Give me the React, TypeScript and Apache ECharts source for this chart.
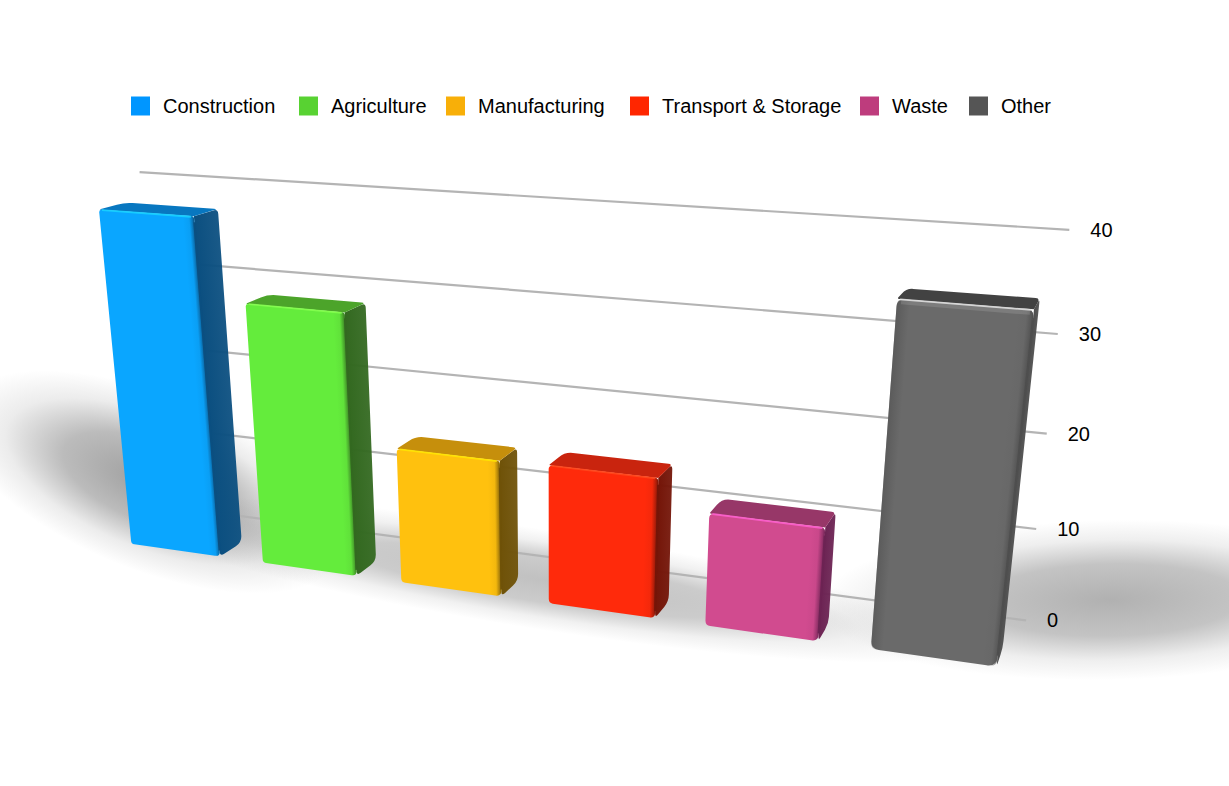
import React, { useEffect, useRef } from "react";
import * as echarts from "echarts";

const categories = ["Construction", "Agriculture", "Manufacturing", "Transport & Storage", "Waste", "Other"];
const values = [38, 29.2, 15.1, 15.2, 12.1, 35];
const ticks = [0, 10, 20, 30, 40];

const legendColors = ["#0096ff", "#58d232", "#f8af08", "#ff2600", "#be3c7d", "#555555"];
const frontColors = ["#0aa6ff", "#64ec3c", "#ffc10e", "#ff2a0b", "#d14b8f", "#6a6a6a"];
const topColors = ["#0877c0", "#4ca42a", "#c68f0c", "#c9240e", "#973768", "#424242"];
const sideColors = ["#0b4f80", "#336920", "#6f5208", "#741508", "#6c2353", "#4e4e4e"];
const lightColors = ["#19d3ff", "#85ff4f", "#ffe600", "#ff4a1f", "#ff5fd0", "#e4e4e4"];
const legendLefts = [131, 299, 446, 630, 860, 969];
const radii = [3, 3, 4, 4, 5, 8];
const halfLeft = [0.34, 0.34, 0.345, 0.345, 0.345, 0.35];
const halfRight = [0.34, 0.34, 0.34, 0.34, 0.34, 0.365];

// perspective camera: origin, three vanishing points and their weights
const O = [111, 541];
const VX = [-4534, -118];
const VY = [553, 4894];
const VZ = [1254, -107];
const LX = -0.0273;
const LY = -0.00187;
const LZ = 0.021;
const WALL_Z = 2.65;

const GRID = { left: 0, top: 0, width: 600, height: 400 };

function project(X: number, Y: number, Z: number): number[] {
  const w = 1 + LX * X + LY * Y + LZ * Z;
  return [
    (O[0] + LX * X * VX[0] + LY * Y * VY[0] + LZ * Z * VZ[0]) / w,
    (O[1] + LX * X * VX[1] + LY * Y * VY[1] + LZ * Z * VZ[1]) / w,
  ];
}

function toWorld(api: any, cat: number, val: number) {
  const c = api.coord([cat, val]);
  const band = api.size([1, 0])[0];
  const unit = api.size([0, 1])[1];
  return { X: (c[0] - GRID.left) / band, Y: (GRID.top + GRID.height - c[1]) / unit };
}

function rgba(hex: string, a: number): string {
  const n = parseInt(hex.slice(1), 16);
  return `rgba(${(n >> 16) & 255},${(n >> 8) & 255},${n & 255},${a})`;
}

function roundedPath(pts: number[][], rs: number[]): string {
  const n = pts.length;
  let d = "";
  for (let i = 0; i < n; i++) {
    const p = pts[i];
    const a = pts[(i + n - 1) % n];
    const b = pts[(i + 1) % n];
    const la = Math.hypot(a[0] - p[0], a[1] - p[1]) || 1;
    const lb = Math.hypot(b[0] - p[0], b[1] - p[1]) || 1;
    const r = Math.min(rs[i], la / 2, lb / 2);
    const s = [p[0] + ((a[0] - p[0]) * r) / la, p[1] + ((a[1] - p[1]) * r) / la];
    const e = [p[0] + ((b[0] - p[0]) * r) / lb, p[1] + ((b[1] - p[1]) * r) / lb];
    d += (i === 0 ? "M" : "L") + s[0].toFixed(2) + " " + s[1].toFixed(2);
    d += "Q" + p[0].toFixed(2) + " " + p[1].toFixed(2) + " " + e[0].toFixed(2) + " " + e[1].toFixed(2);
  }
  return d + "Z";
}

// gradient running square to the edge a-b, towards point c
function acrossEdge(a: number[], b: number[], c: number[], stops: any[]) {
  const ex = b[0] - a[0];
  const ey = b[1] - a[1];
  const l = Math.hypot(ex, ey) || 1;
  let nx = -ey / l;
  let ny = ex / l;
  const dist = (c[0] - a[0]) * nx + (c[1] - a[1]) * ny;
  if (dist < 0) {
    nx = -nx;
    ny = -ny;
  }
  const d = Math.abs(dist);
  const mx = (a[0] + b[0]) / 2;
  const my = (a[1] + b[1]) / 2;
  return new echarts.graphic.LinearGradient(mx, my, mx + nx * d, my + ny * d, stops, true);
}

function barItem(idx: number) {
  return (_params: any, api: any) => {
    const cat = api.value(0);
    const val = api.value(1);
    const { X, Y } = toWorld(api, cat, val);
    const lo = X - halfLeft[idx];
    const hi = X + halfRight[idx];
    const fTL = project(lo, Y, 0);
    const fTR = project(hi, Y, 0);
    const fBL = project(lo, 0, 0);
    const fBR = project(hi, 0, 0);
    const bTL = project(lo, Y, 1);
    const bTR = project(hi, Y, 1);
    const bBR = project(hi, 0, 1);
    const r = radii[idx];
    const side = sideColors[idx];
    const front = frontColors[idx];
    const sideFill = acrossEdge(fTR, fBR, bTR, [
      { offset: 0, color: rgba(side, 1) },
      { offset: 1, color: rgba(side, 0.94) },
    ]);
    const innerR = [project(hi - 0.08, Y, 0), fTR, fBR, project(hi - 0.08, 0, 0)];
    const innerL = [fTL, project(lo + 0.07, Y, 0), project(lo + 0.07, 0, 0), fBL];
    const edgeLen = Math.hypot(fBR[0] - fTR[0], fBR[1] - fTR[1]) || 1;
    const edgeCut = (r + 3) / edgeLen;
    const children: any[] = [
      {
        type: "path",
        shape: { pathData: roundedPath([fTR, bTR, bBR, fBR], [0, 5, 7, 5]) },
        style: { fill: sideFill },
      },
      {
        type: "path",
        shape: { pathData: roundedPath([fTL, fTR, bTR, bTL], [2, 0, 4, 8]) },
        style: { fill: topColors[idx] },
      },
      {
        type: "path",
        shape: { pathData: roundedPath([fTL, fTR, fBR, fBL], [r, r, r + 2, r]) },
        style: { fill: front },
      },
      {
        type: "path",
        shape: { pathData: roundedPath(innerR, [0, r, r + 2, 0]) },
        style: {
          fill: acrossEdge(innerR[0], innerR[3], fTR, [
            { offset: 0, color: rgba(side, 0) },
            { offset: 0.55, color: rgba(side, 0.08) },
            { offset: 0.85, color: rgba(side, 0.6) },
            { offset: 1, color: rgba(side, 1) },
          ]),
        },
      },
      {
        type: "line",
        shape: {
          x1: fTR[0] + (fBR[0] - fTR[0]) * edgeCut,
          y1: fTR[1] + (fBR[1] - fTR[1]) * edgeCut,
          x2: fBR[0] - (fBR[0] - fTR[0]) * edgeCut,
          y2: fBR[1] - (fBR[1] - fTR[1]) * edgeCut,
        },
        style: { stroke: side, lineWidth: 2 },
      },
    ];
    if (idx === 5) {
      children.push({
        type: "path",
        shape: { pathData: roundedPath(innerL, [r, 0, 0, r]) },
        style: {
          fill: acrossEdge(innerL[1], innerL[2], fTL, [
            { offset: 0, color: rgba(side, 0) },
            { offset: 1, color: rgba(side, 0.55) },
          ]),
        },
      });
      children.push({
        type: "line",
        shape: { x1: fTL[0] + 4, y1: fTL[1] + 3, x2: fTR[0] - 4, y2: fTR[1] + 3 },
        style: { stroke: "#ffffff", lineWidth: 5, opacity: 0.12 },
      });
    }
    children.push({
      type: "line",
      shape: { x1: fTL[0] + 3, y1: fTL[1] + 0.5, x2: fTR[0] - 3, y2: fTR[1] + 0.5 },
      style: { stroke: lightColors[idx], lineWidth: 1.8, opacity: 0.85 },
    });
    return { type: "group", children };
  };
}

function gridItem(_params: any, api: any) {
  const val = api.value(1);
  const { Y } = toWorld(api, 0, val);
  const a = project(-0.02, Y, WALL_Z);
  const b = project(5.945, Y, WALL_Z);
  return {
    type: "group",
    children: [
      {
        type: "line",
        shape: { x1: a[0], y1: a[1], x2: b[0], y2: b[1] },
        style: { stroke: "#b4b4b4", lineWidth: 2.2 },
      },
      {
        type: "text",
        style: {
          text: String(val),
          x: b[0] + 21,
          y: b[1],
          fill: "#000",
          fontFamily: "Liberation Sans",
          fontSize: 20,
          align: "left",
          verticalAlign: "middle",
        },
      },
    ],
  };
}

const glow = (cx: number, cy: number, rx: number, ry: number, rot: number, peak: number, mid: number) => ({
  type: "circle",
  silent: true,
  x: cx,
  y: cy,
  scaleX: rx,
  scaleY: ry,
  rotation: rot,
  shape: { cx: 0, cy: 0, r: 1 },
  style: {
    fill: new echarts.graphic.RadialGradient(0.5, 0.5, 0.5, [
      { offset: 0, color: `rgba(120,120,120,${peak})` },
      { offset: 0.45, color: `rgba(120,120,120,${mid})` },
      { offset: 0.75, color: `rgba(120,120,120,${mid * 0.28})` },
      { offset: 1, color: "rgba(120,120,120,0)" },
    ]),
  },
});

export default function App() {
  const ref = useRef<HTMLDivElement>(null);
  useEffect(() => {
    const chart = echarts.init(ref.current!, null, { renderer: "svg" });
    chart.setOption({
      animation: false,
      backgroundColor: "#fff",
      grid: { ...GRID, containLabel: false },
      xAxis: { type: "category", data: categories, show: false },
      yAxis: { type: "value", min: 0, max: 40, interval: 10, show: false },
      legend: categories.map((name, i) => ({
        data: [name],
        left: legendLefts[i],
        top: 96,
        itemWidth: 19,
        itemHeight: 19,
        padding: 0,
        icon: "rect",
        selectedMode: false,
        textStyle: { fontFamily: "Liberation Sans", fontSize: 20, color: "#000", padding: [0, 0, 0, 8] },
      })),
      graphic: [
        glow(150, 482, 205, 88, -0.38, 0.72, 0.5),
        glow(545, 580, 430, 50, -0.155, 0.46, 0.38),
        glow(1110, 600, 290, 80, 0.02, 0.58, 0.44),
      ],
      series: [
        {
          type: "custom",
          name: "grid",
          z: 2,
          renderItem: gridItem,
          encode: { x: 0, y: 1 },
          data: ticks.map((t) => [0, t]),
          silent: true,
        },
        ...categories.map((name, i) => ({
          type: "custom",
          name,
          z: 3 + i,
          renderItem: barItem(i),
          encode: { x: 0, y: 1 },
          itemStyle: { color: legendColors[i] },
          data: [[i, values[i]]],
          silent: true,
        })),
      ],
    });
    return () => chart.dispose();
  }, []);
  return <div ref={ref} style={{ position: "absolute", left: 0, top: 0, width: 1229, height: 786 }} />;
}
